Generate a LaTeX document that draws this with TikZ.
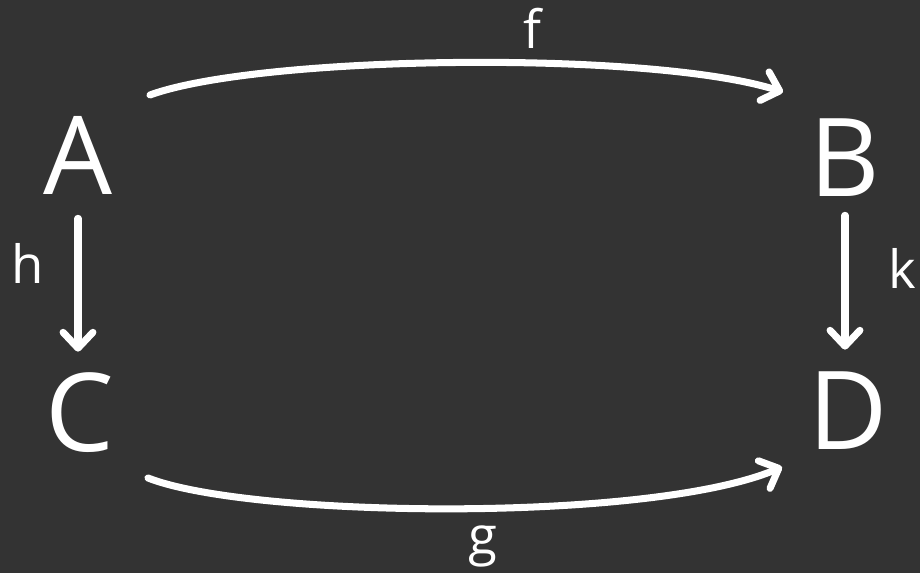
\documentclass[tikz,border=0pt]{standalone}
\usepackage{fontspec}
\setmainfont{Open Sans}
\usetikzlibrary{arrows.meta}
\definecolor{slate}{HTML}{333333}

\begin{document}
\begin{tikzpicture}[
  x=0.02cm, y=0.02cm,
  obj/.style={text=white, font=\fontsize{62}{66}\selectfont, inner sep=0pt,
              text height=1.6cm, text depth=0pt},
  lbl/.style={text=white, font=\fontsize{30}{34}\selectfont, inner sep=0pt},
  arr/.style={draw=white, line width=4pt, line cap=round,
              -{Straight Barb[length=9pt, width=17pt, line cap=round, line join=round]}},
]

% Fond
\fill[slate] (0,0) rectangle (920,573);

% Objets
\node[obj] (A) at (78,418) {A};
\node[obj] (B) at (845,416) {B};
\node[obj] (C) at (80,161) {C};
\node[obj] (D) at (848,163) {D};

% Extremites des fleches courbes
\coordinate (f0) at (150,478);
\coordinate (f1) at (783,481);
\coordinate (g0) at (148,95);
\coordinate (g1) at (782,106);

% Fleches
\draw[arr] (f0) .. controls (260,518) and (650,523) .. (f1);
\draw[arr] (g0) .. controls (250,55) and (650,50) .. (g1);
\draw[arr, shorten <=0.46cm, shorten >=0.4cm] (A.south) -- (A.south |- C.north);
\draw[arr, shorten <=0.36cm, shorten >=0.4cm] (B.south) -- (B.south |- D.north);

% Etiquettes
\node[lbl] (f) at (532,545) {f};
\node[lbl] (g) at (483,27) {g};
\node[lbl] (h) at (28,310) {h};
\node[lbl] (k) at (902,305) {k};

\end{tikzpicture}
\end{document}
